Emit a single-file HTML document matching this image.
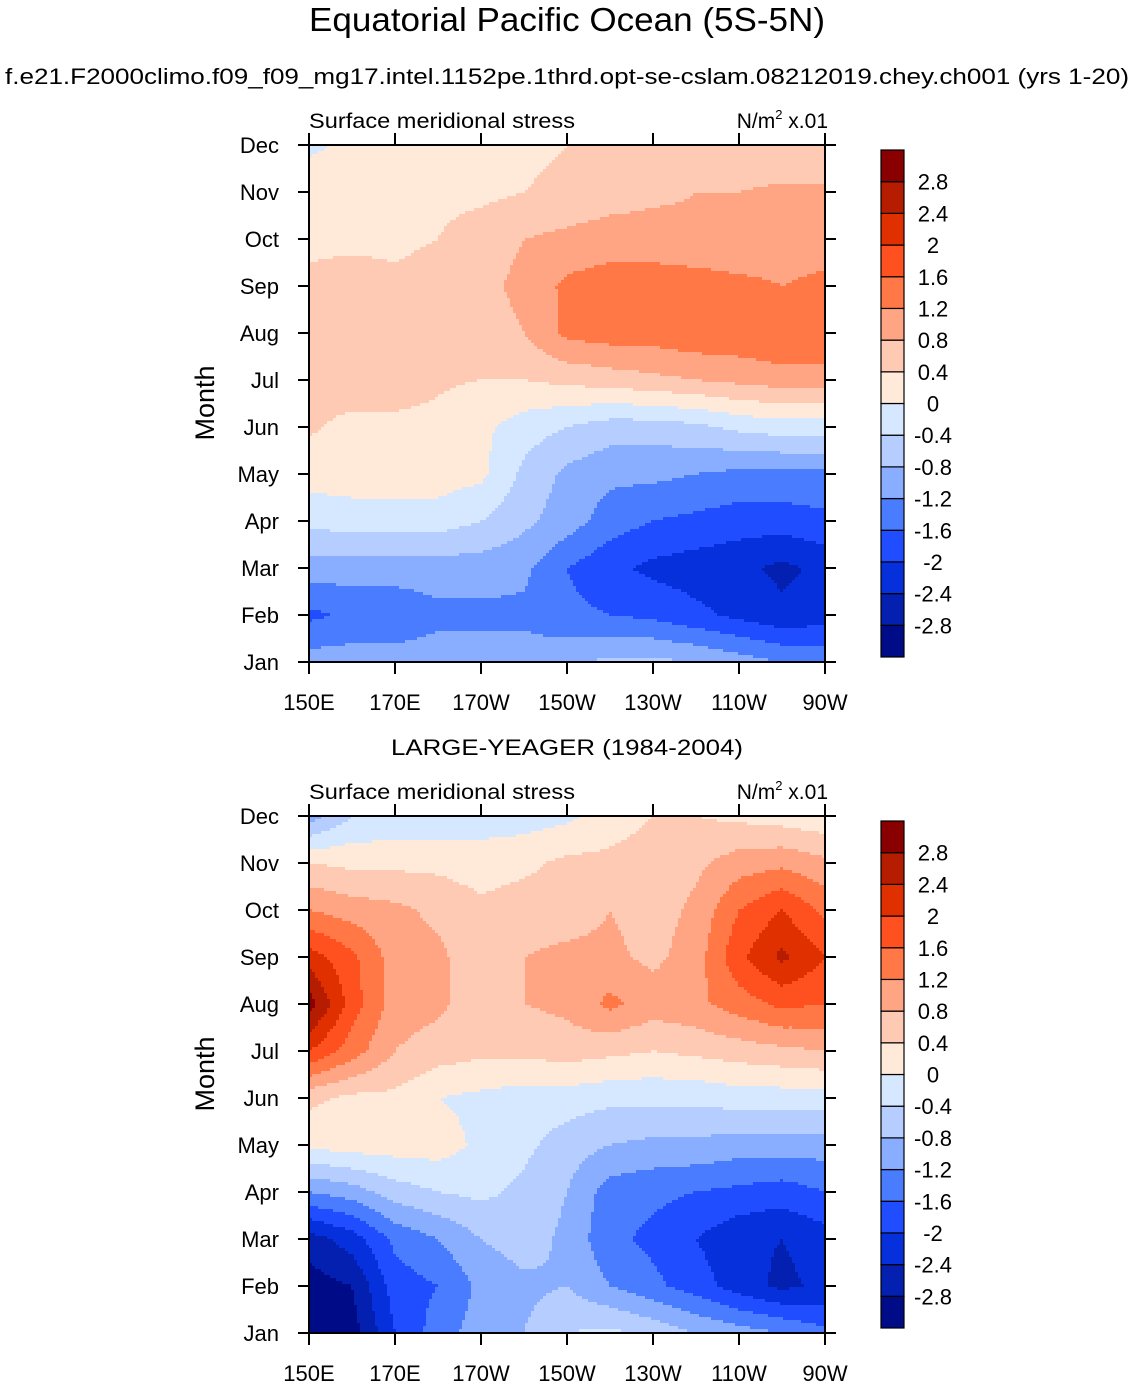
<!DOCTYPE html>
<html><head><meta charset="utf-8"><style>
body{margin:0;background:#fff;}
svg text{font-family:"Liberation Sans",Arial,sans-serif;fill:#000;}
</style></head><body>
<svg id="svg" width="1135" height="1388" xmlns="http://www.w3.org/2000/svg">
<text x="567" y="31" font-size="33" text-anchor="middle" textLength="516" lengthAdjust="spacingAndGlyphs">Equatorial Pacific Ocean (5S-5N)</text>
<text x="567" y="84" font-size="22" text-anchor="middle" textLength="1124" lengthAdjust="spacingAndGlyphs">f.e21.F2000climo.f09_f09_mg17.intel.1152pe.1thrd.opt-se-cslam.08212019.chey.ch001 (yrs 1-20)</text>
<text x="567" y="755" font-size="22" text-anchor="middle" textLength="352" lengthAdjust="spacingAndGlyphs">LARGE-YEAGER (1984-2004)</text>
</svg>
<script>
const months=["Jan","Feb","Mar","Apr","May","Jun","Jul","Aug","Sep","Oct","Nov","Dec"];
const lonLabels=["150E","170E","170W","150W","130W","110W","90W"];
const levels=[-2.8,-2.4,-2,-1.6,-1.2,-0.8,-0.4,0,0.4,0.8,1.2,1.6,2,2.4,2.8];
const levelLabels=["-2.8","-2.4","-2","-1.6","-1.2","-0.8","-0.4","0","0.4","0.8","1.2","1.6","2","2.4","2.8"];
const colors=["#000b87","#0320b0","#0530dc","#1f4dff","#4a7cff","#8aaeff","#b5cdff","#d6e8ff","#ffeada","#ffcab3","#ffa584","#ff7845","#ff5020","#e03000","#b51c00","#8a0000"];
// rows: Jan..Dec ; columns: 150E,160E,...,90W (every 10 deg)
const modelData=[
[-1.0,-1.0,-1.0,-1.0,-1.0,-1.0,-0.9,-0.7,-0.7,-0.8,-1.0,-1.2,-1.3],
[-1.7,-1.5,-1.5,-1.3,-1.3,-1.3,-1.5,-1.6,-1.7,-1.9,-2.1,-2.3,-2.2],
[-1.0,-1.0,-1.0,-1.0,-1.0,-1.1,-1.6,-1.9,-2.1,-2.2,-2.3,-2.5,-2.3],
[-0.3,-0.2,-0.2,-0.2,-0.4,-0.7,-1.0,-1.4,-1.6,-1.7,-1.8,-1.8,-1.7],
[0.2,0.2,0.2,0.2,0.1,-0.5,-0.9,-1.1,-1.1,-1.2,-1.3,-1.3,-1.3],
[0.45,0.3,0.3,0.3,0.1,-0.2,-0.4,-0.6,-0.6,-0.5,-0.3,-0.2,-0.2],
[0.5,0.6,0.6,0.45,0.4,0.4,0.5,0.6,0.7,0.8,0.9,1.0,1.0],
[0.5,0.6,0.6,0.6,0.6,0.8,1.3,1.4,1.4,1.5,1.5,1.6,1.6],
[0.5,0.6,0.5,0.6,0.7,0.9,1.3,1.4,1.4,1.4,1.3,1.2,1.3],
[0.3,0.3,0.3,0.4,0.6,0.8,0.9,1.0,1.0,0.9,0.9,1.0,1.0],
[0.3,0.3,0.3,0.3,0.3,0.4,0.5,0.6,0.7,0.8,0.8,0.9,0.9],
[-0.1,0.1,0.2,0.2,0.2,0.3,0.4,0.5,0.5,0.5,0.4,0.4,0.4]];
const obsData=[
[-3.0,-3.0,-2.0,-1.4,-1.0,-0.8,-0.4,-0.3,-0.5,-0.8,-1.0,-1.2,-1.5],
[-3.0,-2.8,-1.8,-1.6,-1.1,-0.9,-0.8,-1.2,-1.5,-1.8,-2.2,-2.5,-2.3],
[-2.6,-2.2,-1.5,-1.2,-0.8,-0.6,-0.9,-1.5,-1.7,-2.0,-2.3,-2.4,-2.2],
[-1.2,-1.0,-0.6,-0.4,-0.3,-0.5,-0.8,-1.4,-1.5,-1.6,-1.7,-1.8,-1.6],
[0.1,0.2,0.2,0.2,-0.1,-0.3,-0.6,-0.8,-0.9,-0.9,-1.0,-1.0,-1.0],
[0.5,0.3,0.3,0.0,-0.1,-0.2,-0.2,-0.3,-0.3,-0.3,-0.2,-0.2,-0.2],
[2.0,1.4,0.8,0.6,0.5,0.5,0.6,0.5,0.4,0.5,0.6,0.7,0.8],
[3.0,1.8,1.0,0.9,0.5,0.8,0.9,1.3,1.0,1.1,1.4,1.7,1.6],
[2.2,1.7,1.0,0.9,0.5,0.8,0.9,0.9,0.7,1.0,1.9,2.5,2.0],
[1.2,1.0,0.9,0.7,0.5,0.6,0.6,0.8,0.6,0.9,1.6,2.0,1.5],
[0.4,0.3,0.3,0.3,0.2,0.3,0.5,0.5,0.6,0.7,1.0,1.1,0.9],
[-1.0,-0.4,-0.3,-0.3,-0.2,-0.2,-0.1,0.2,0.4,0.4,0.3,0.2,0.1]];

const NS="http://www.w3.org/2000/svg";
const svg=document.getElementById('svg');
function mk(tag,attrs,parent){const e=document.createElementNS(NS,tag);for(const k in attrs)e.setAttribute(k,attrs[k]);(parent||svg).appendChild(e);return e;}
function colorFor(v){let i=0;while(i<levels.length&&v>=levels[i])i++;return colors[i];}
const X0=309,X1=825,PW=X1-X0,PH=517;
function panel(data,top,name){
  const g=mk('g',{});
  
  
  const nr=data.length,nc=data[0].length,step=3;
  const yScale=r=>top+PH-r/(nr-1)*PH;
  for(let py=0;py<PH;py+=step){
    const r=Math.max(0,Math.min(nr-1,(PH-(py+step/2))/PH*(nr-1)));
    const r0=Math.max(0,Math.min(nr-2,Math.floor(r))),fr=r-r0;
    let runStart=0,runCol=null;
    for(let px=0;px<=PW;px+=step){
      let col=null;
      if(px<PW){
        const c=Math.max(0,Math.min(nc-1,(px+step/2)/PW*(nc-1)));
        const c0=Math.max(0,Math.min(nc-2,Math.floor(c))),fc=c-c0;
        const v=(data[r0][c0]*(1-fc)+data[r0][c0+1]*fc)*(1-fr)+(data[r0+1][c0]*(1-fc)+data[r0+1][c0+1]*fc)*fr;
        col=colorFor(v);
      }
      if(col!==runCol){
        if(runCol!==null){
          const h=Math.min(step+0.5,PH-py);
          const rc=mk('rect',{x:X0+runStart,y:top+py,width:Math.min(px,PW)-runStart+(px<PW?0.5:0),height:h,fill:runCol},g);
          
          
        }
        runStart=px;runCol=col;
      }
    }
  }
  mk('rect',{x:X0,y:top,width:PW,height:PH,fill:'none',stroke:'#000','stroke-width':2},g);
  months.forEach((m,i)=>{
    const y=yScale(i);
    mk('line',{x1:X0-11,x2:X0,y1:y,y2:y,stroke:'#000','stroke-width':2},g);
    mk('line',{x1:X1,x2:X1+11,y1:y,y2:y,stroke:'#000','stroke-width':2},g);
    const t=mk('text',{x:X0-30,y:y+8,'font-size':22,'text-anchor':'end'},g);
    t.textContent=m;
    
    
  });
  lonLabels.forEach((l,i)=>{
    const x=X0+i/(lonLabels.length-1)*PW;
    mk('line',{x1:x,x2:x,y1:top+PH,y2:top+PH+12,stroke:'#000','stroke-width':2},g);
    mk('line',{x1:x,x2:x,y1:top-12,y2:top,stroke:'#000','stroke-width':2},g);
    const t=mk('text',{x:x,y:top+PH+48,'font-size':22,'text-anchor':'middle'},g);
    t.textContent=l;
    
    
  });
  const yt=mk('text',{x:0,y:0,'font-size':27,'text-anchor':'middle',transform:`translate(214,${top+258}) rotate(-90)`},g);
  yt.textContent='Month';
  
  
  const lt=mk('text',{x:X0,y:top-17,'font-size':21,textLength:266,lengthAdjust:'spacingAndGlyphs'},g);
  lt.textContent='Surface meridional stress';
  
  
  const ut=mk('text',{x:X1+3,y:top-17,'font-size':21,'text-anchor':'end'},g);
  ut.innerHTML='N/m<tspan dy="-9" font-size="13">2</tspan><tspan dy="9"> x.01</tspan>';
  
  
  const cb=mk('g',{},g);
  
  
  const cbTop=top+5,cbH=507,bh=cbH/colors.length;
  colors.forEach((c,i)=>{
    const r=mk('rect',{x:881,y:cbTop+cbH-(i+1)*bh,width:23,height:bh,fill:c,stroke:'#000','stroke-width':1.2},cb);
    
    
  });
  levelLabels.forEach((l,i)=>{
    const t=mk('text',{x:933,y:cbTop+cbH-(i+1)*bh+8,'font-size':22,'text-anchor':'middle'},cb);
    t.textContent=l;
    
    
  });
}
panel(modelData,145,'model-panel');
panel(obsData,816,'observation-panel');
</script>
</body></html>
